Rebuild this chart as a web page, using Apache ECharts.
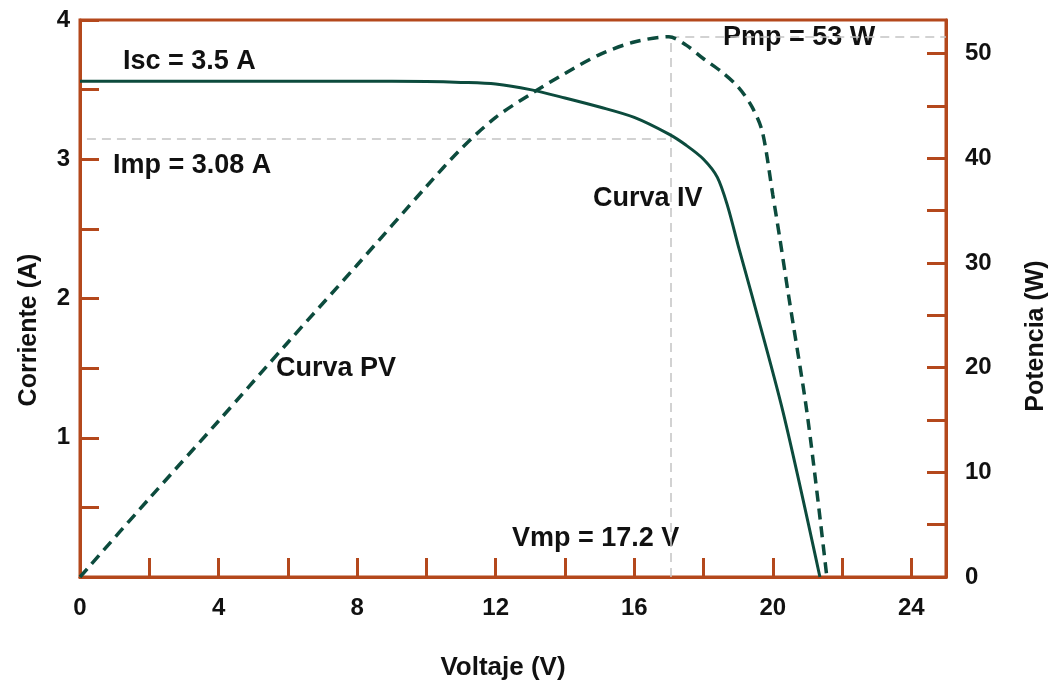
<!DOCTYPE html>
<html>
<head>
<meta charset="utf-8">
<script src="https://cdn.jsdelivr.net/npm/echarts@6/dist/echarts.min.js"></script>
<style>
  html, body { margin: 0; padding: 0; background: #fff; }
  #chart { width: 1052px; height: 684px; }
</style>
</head>
<body>
<div id="chart"></div>
<script>
// curva IV (corriente vs voltaje)
var ivVoltage = [0, 2, 4, 6, 8, 10, 11, 12, 13, 14, 15, 16, 17, 17.5, 18, 18.4, 18.7, 19.0, 19.4, 20.3, 21.36];
var ivCurrent = [3.56, 3.56, 3.56, 3.56, 3.56, 3.558, 3.552, 3.54, 3.5, 3.44, 3.375, 3.3, 3.18, 3.1, 3.0, 2.87, 2.66, 2.38, 2.02, 1.18, 0];
// curva PV (potencia vs voltaje)
var pvVoltage = [0, 2, 4, 6, 8, 10, 11, 12, 13, 14, 15, 16, 17, 17.5, 18, 18.5, 19, 19.4, 19.7, 20.0, 20.2, 20.45, 21.0, 21.56];
var pvPower = [0, 7.5, 14.9, 22.4, 29.8, 37.3, 40.9, 43.9, 46.1, 48.1, 49.9, 51.1, 51.6, 50.8, 49.5, 48.3, 46.8, 44.9, 42.5, 36.5, 32.4, 27.0, 15.4, 0];
// punto de máxima potencia (posiciones)
var vmp = 17.04;
var imp = 3.15;
var pmp = 51.6;
var xTicks = [0, 4, 8, 12, 16, 20, 24];
var leftTicks = [1, 2, 3, 4];
var rightTicks = [0, 10, 20, 30, 40, 50];

var axisColor = "#b4481c";
var curveColor = "#0c4b3d";
var refColor = "#c4c4c4";
var font = '"Liberation Sans", Arial, sans-serif';

function zip(a, b) {
  return a.map(function (v, i) { return [v, b[i]]; });
}

var chart = echarts.init(document.getElementById("chart"));

var axisCommon = {
  axisLine: { show: true, onZero: false, lineStyle: { color: axisColor, width: 3 } },
  axisTick: { show: true, inside: true, length: 19, lineStyle: { color: axisColor, width: 3 } },
  splitLine: { show: false },
};
var labelStyle = { color: "#111", fontSize: 24, fontWeight: "bold", fontFamily: font };

var option = {
  animation: false,
  backgroundColor: "#fff",
  grid: {
    left: 80, right: 106, top: 20, bottom: 107,
    show: true, borderColor: axisColor, borderWidth: 3,
  },
  xAxis: Object.assign({}, axisCommon, {
    type: "value",
    min: 0, max: 25, interval: 2,
    axisLabel: Object.assign({}, labelStyle, {
      margin: 19,
      showMaxLabel: false,
      formatter: function (v) { return xTicks.indexOf(v) >= 0 ? String(v) : ""; },
    }),
  }),
  yAxis: [
    Object.assign({}, axisCommon, {
      type: "value", position: "left",
      min: 0, max: 4, interval: 0.5,
      axisLabel: Object.assign({}, labelStyle, {
        margin: 10,
        formatter: function (v) { return leftTicks.indexOf(v) >= 0 ? String(v) : ""; },
      }),
    }),
    Object.assign({}, axisCommon, {
      type: "value", position: "right",
      min: 0, max: 53.2, interval: 5,
      axisLabel: Object.assign({}, labelStyle, {
        margin: 19,
        showMaxLabel: false,
        formatter: function (v) { return rightTicks.indexOf(v) >= 0 ? String(v) : ""; },
      }),
    }),
  ],
  series: [
    {
      name: "Curva IV",
      type: "line",
      yAxisIndex: 0,
      data: zip(ivVoltage, ivCurrent),
      smooth: 0.3,
      showSymbol: false,
      z: 5,
      lineStyle: { color: curveColor, width: 3 },
      markLine: {
        silent: true, symbol: "none", label: { show: false },
        lineStyle: { color: refColor, width: 1.5, type: [9, 6] },
        data: [[{ coord: [0.2, imp] }, { coord: [vmp, imp] }]],
      },
    },
    {
      name: "Curva PV",
      type: "line",
      yAxisIndex: 1,
      data: zip(pvVoltage, pvPower),
      smooth: 0.3,
      showSymbol: false,
      z: 5,
      lineStyle: { color: curveColor, width: 3.5, type: [11, 7] },
      markLine: {
        silent: true, symbol: "none", label: { show: false },
        lineStyle: { color: refColor, width: 1.5, type: [9, 6] },
        data: [
          [{ coord: [vmp, 0] }, { coord: [vmp, pmp] }],
          [{ coord: [vmp, pmp] }, { coord: [25, pmp] }],
        ],
      },
    },
  ],
  graphic: [
    { type: "text", left: 123, top: 48, style: { text: "Isc = 3.5 A", font: "bold 27px " + font, fill: "#111" } },
    { type: "text", left: 113, top: 152, style: { text: "Imp = 3.08 A", font: "bold 27px " + font, fill: "#111" } },
    { type: "text", left: 593, top: 185, style: { text: "Curva IV", font: "bold 27px " + font, fill: "#111" } },
    { type: "text", left: 276, top: 355, style: { text: "Curva PV", font: "bold 27px " + font, fill: "#111" } },
    { type: "text", left: 512, top: 525, style: { text: "Vmp = 17.2 V", font: "bold 27px " + font, fill: "#111" } },
    { type: "text", left: 723, top: 24, style: { text: "Pmp = 53 W", font: "bold 27px " + font, fill: "#111" } },
    { type: "text", x: 503, y: 668, style: { text: "Voltaje (V)", font: "bold 26px " + font, fill: "#111", align: "center", verticalAlign: "middle" } },
    { type: "text", x: 29, y: 330, rotation: Math.PI / 2, style: { text: "Corriente (A)", font: "bold 25px " + font, fill: "#111", align: "center", verticalAlign: "middle" } },
    { type: "text", x: 1036, y: 336, rotation: Math.PI / 2, style: { text: "Potencia (W)", font: "bold 25px " + font, fill: "#111", align: "center", verticalAlign: "middle" } },
  ],
};

chart.setOption(option);
</script>
</body>
</html>
